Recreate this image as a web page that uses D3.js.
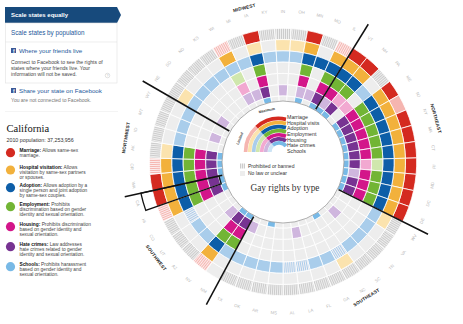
<!DOCTYPE html>
<html>
<head>
<meta charset="utf-8">
<script src="https://cdn.jsdelivr.net/npm/d3@7"></script>
<style>
  body { margin: 0; background: #fff; }
  svg { display: block; font-family: "Liberation Sans", Arial, sans-serif; }
</style>
</head>
<body>
<svg id="chart" width="463" height="324"></svg>
<script>
// small stand-in for d3-selection-multi
d3.selection.prototype.attrs = function (o) {
  Object.keys(o).forEach(k => this.attr(k, o[k]))
  return this
}

// rings, outermost first
const rights = ["Marriage", "Hospital visits", "Adoption", "Employment", "Housing", "Hate crimes", "Schools"]
const fullColors = ["#d42a20", "#f2b13c", "#0d5ea8", "#72b535", "#d3168a", "#773392", "#78b9e6"]
const tintColors = ["#f5b5b0", "#fbe3ae", "#a9cdeb", "#d0e7ad", "#f2a9d1", "#cfb6de", "#cde4f5"]

const regions = ["MIDWEST", "NORTHEAST", "SOUTHEAST", "SOUTHWEST", "NORTHWEST"]
const regionSizes = [13, 12, 13, 7, 6]

// states clockwise, starting at the Midwest edge
const states = [
  "NE", "SD", "ND", "KS", "WI", "MI", "IA", "KY", "IN", "OH", "MN", "MO", "IL",
  "VT", "NH", "PA", "ME", "NJ", "NY", "MA", "CT", "RI", "MD", "DC", "DE",
  "WV", "VA", "TN", "SC", "NC", "GA", "FL", "LA", "AL", "MS", "AR", "OK", "TX",
  "NM", "NV", "AZ", "UT", "CO", "HI", "CA",
  "WA", "OR", "AK", "ID", "MT", "WY"
]

// one letter per ring: F full, L limited, P prohibited, X limited but banned, N no law
const statusCodes = [
  "PLLNNLN", "PNLNNNN", "PNLNNNN", "PNLNNNN", "XFLLLLN", "PNLNNLN", "FLFFFFF", "PNLNNNN", "PLLNNLN", "PLLNNNN", "FFFFFLF", "PNFNNLN", "XFFFFFF",
  "FFFFFLF", "FFFFLFF", "PNLNLNN", "FFFFFFF", "LFFFFFF", "FFFFFFF", "FFFFFFF", "FFFFFFF", "FFFLLFF", "FFFFFLF", "FFFFFFF", "FFFFFFF",
  "PLLNNNN", "PNLNNNN", "PNLNNLN", "PNLNNNN", "PLXNNNF", "PNLNNNN", "PNLNNNN", "PNXNNLN", "PNXNNNN", "PNLNNNN", "PNLNNNF", "PNLNNNN", "PNLNNLN",
  "NNLFFFF", "XFFFFFF", "PNLNNLN", "PNLNNNN", "PNXNNNN", "XFFFFFF", "FFFFFFF",
  "FFFFFFF", "XFFFFFF", "PLFFFFF", "PNLNNNN", "PNLNNLN", "PNLNNNN"
]

const selected = "CA"

const legendItems = [
  ["Marriage:", " Allows same-sex", "marriage."],
  ["Hospital visitation:", " Allows", "visitation by same-sex partners", "or spouses."],
  ["Adoption:", " Allows adoption by a", "single person and joint adoption", "by same-sex couples."],
  ["Employment:", " Prohibits", "discrimination based on gender", "identity and sexual orientation."],
  ["Housing:", " Prohibits discrimination", "based on gender identity and", "sexual orientation."],
  ["Hate crimes:", " Law addresses", "hate crimes related to gender", "identity and sexual orientation."],
  ["Schools:", " Prohibits harassment", "based on gender identity and", "sexual orientation."]
]
const legendY = [152.7, 170, 187.7, 206.7, 226.7, 246.7, 266.7]

const svg = d3.select("#chart")
const defs = svg.append("defs")

// ---------- wheel ----------
const cx = 283, cy = 162
const R0 = 66, R1 = 145, innerCircle = 61
const start = -Math.PI / 3

const angle = d3.scaleBand().domain(states).range([start, start + 2 * Math.PI])
const ring = d3.scaleBand().domain(rights).range([R1, R0])

const arc = d3.arc()
  .startAngle(d => angle(d.state))
  .endAngle(d => angle(d.state) + angle.bandwidth())
  .outerRadius(d => ring(d.right))
  .innerRadius(d => ring(d.right) - ring.bandwidth())

const toDeg = a => a * 180 / Math.PI

// striped fills, rotated so the stripes run along each state's radius
function hatch(state, bg, stripe, rot) {
  let id = `h-${state}-${bg.slice(1)}`
  if (defs.select("#" + id).empty()) {
    let deg = rot !== undefined ? rot : toDeg(angle(state) + angle.bandwidth() / 2)
    let p = defs.append("pattern")
      .attrs({
        id: id, patternUnits: "userSpaceOnUse", width: 2, height: 4,
        patternTransform: `rotate(${deg})`
      })
    p.append("rect").attrs({ width: 2, height: 4, fill: bg })
    p.append("rect").attrs({ width: 0.9, height: 4, fill: stripe })
  }
  return `url(#${id})`
}

function cellFill(d) {
  if (d.code == "F") return fullColors[d.k]
  if (d.code == "L") return tintColors[d.k]
  if (d.code == "N") return "#ededed"
  if (d.code == "X") return hatch(d.state, tintColors[d.k], "#fdf4f4")
  return hatch(d.state, "#eeeeee", "#c9c9c9")
}

const cells = []
states.forEach((s, i) => {
  rights.forEach((r, k) => cells.push({ state: s, right: r, k: k, code: statusCodes[i][k] }))
})

const wheel = svg.append("g").attr("transform", `translate(${cx},${cy})`)

wheel.append("g")
  .selectAll("path")
  .data(cells).enter()
  .append("path")
  .attrs({
    d: arc,
    fill: cellFill,
    stroke: "#fff",
    "stroke-width": 0.8
  })

// region dividers
let regionStarts = []
let acc = 0
regionSizes.forEach(n => { regionStarts.push(acc); acc += n })

wheel.append("g")
  .selectAll("line")
  .data(regionStarts).enter()
  .append("line")
  .attrs({
    x1: d => 62 * Math.sin(angle(states[d])),
    y1: d => -62 * Math.cos(angle(states[d])),
    x2: d => 162 * Math.sin(angle(states[d])),
    y2: d => -162 * Math.cos(angle(states[d])),
    stroke: "#111",
    "stroke-width": 1.5
  })

// selected state outline
wheel.append("path")
  .attr("d", d3.arc()({
    startAngle: angle(selected),
    endAngle: angle(selected) + angle.bandwidth(),
    innerRadius: R0 - 0.5,
    outerRadius: R1 + 0.5
  }))
  .attrs({ fill: "none", stroke: "#111", "stroke-width": 1.3 })

function labelRotation(a) {
  let deg = (toDeg(a) + 360) % 360
  return (deg > 90 && deg < 270) ? deg - 180 : deg
}

// state abbreviations
wheel.append("g")
  .selectAll("text")
  .data(states).enter()
  .append("text")
  .attrs({
    transform: d => {
      let a = angle(d) + angle.bandwidth() / 2
      return `translate(${151 * Math.sin(a)},${-151 * Math.cos(a)}) rotate(${labelRotation(a)})`
    },
    "text-anchor": "middle",
    dy: "0.35em",
    "font-size": 4.3,
    fill: "#b9b9b9"
  })
  .text(d => d)

// region names; the southeast name sits nearer its first states
const nudge = { SOUTHEAST: -14 * Math.PI / 180 }
wheel.append("g")
  .selectAll("text")
  .data(regions).enter()
  .append("text")
  .attrs({
    transform: (d, i) => {
      let first = states[regionStarts[i]]
      let last = states[regionStarts[i] + regionSizes[i] - 1]
      let a = (angle(first) + angle(last) + angle.bandwidth()) / 2 + (nudge[d] || 0)
      return `translate(${159 * Math.sin(a)},${-159 * Math.cos(a)}) rotate(${labelRotation(a)})`
    },
    "text-anchor": "middle",
    dy: "0.35em",
    "font-size": 4.6,
    "font-weight": "bold",
    "letter-spacing": 0.2,
    fill: "#222"
  })
  .text(d => d)

// inner white disc
wheel.append("circle")
  .attrs({ r: innerCircle, fill: "#fff", stroke: "#9a9a9a", "stroke-width": 0.8 })

// ---------- rainbow key inside the disc ----------
const key = svg.append("g").attr("transform", `translate(279,152)`)
const keyRing = d3.scaleBand().domain(rights).range([39, 11]).paddingInner(0.08)
const split = -42 * Math.PI / 180

rights.forEach((r, k) => {
  let outer = keyRing(r), inner = outer - keyRing.bandwidth()
  let mid = (outer + inner) / 2
  let end = Math.asin(Math.min(1, 7 / mid))
  key.append("path")
    .attr("d", d3.arc()({ innerRadius: inner, outerRadius: outer, startAngle: -Math.PI / 2, endAngle: split }))
    .attr("fill", tintColors[k])
  key.append("path")
    .attr("d", d3.arc()({ innerRadius: inner, outerRadius: outer, startAngle: split, endAngle: end }))
    .attr("fill", fullColors[k])
})

key.append("text")
  .attrs({ transform: "translate(-38,-13) rotate(-68)", "font-size": 3.6, "font-weight": "bold", fill: "#333", "text-anchor": "middle" })
  .text("Limited")
key.append("text")
  .attrs({ transform: "translate(-12,-40.5) rotate(-12)", "font-size": 3.6, "font-weight": "bold", fill: "#333", "text-anchor": "middle" })
  .text("Maximum")

const keyRow = d3.scalePoint().domain(rights).range([119, 153])
svg.append("g")
  .selectAll("text")
  .data(rights).enter()
  .append("text")
  .attrs({ x: 287, y: d => keyRow(d), "font-size": 5.3, fill: "#333" })
  .text(d => d)

svg.append("rect")
  .attrs({ x: 240, y: 163.5, width: 5, height: 5, fill: hatch("key", "#eeeeee", "#c9c9c9", 0) })
svg.append("rect")
  .attrs({ x: 240, y: 171, width: 5, height: 5, fill: "#ededed" })
svg.append("text").attrs({ x: 248, y: 167.8, "font-size": 5, fill: "#333" }).text("Prohibited or banned")
svg.append("text").attrs({ x: 248, y: 175.3, "font-size": 5, fill: "#333" }).text("No law or unclear")

svg.append("text")
  .attrs({ x: 285, y: 191, "text-anchor": "middle", "font-size": 9.3, fill: "#333", "font-family": "'Liberation Serif', Georgia, serif" })
  .text("Gay rights by type")

// ---------- side panel ----------
const panel = svg.append("g")

panel.append("path")
  .attrs({ d: "M5,7H117L121,15L117,23H5Z", fill: "#174a7c" })
panel.append("text")
  .attrs({ x: 11, y: 17, "font-size": 6, "font-weight": "bold", fill: "#fff" })
  .text("Scale states equally")

panel.append("rect")
  .attrs({ x: 5.5, y: 23, width: 111.5, height: 60, fill: "none", stroke: "#e2e2e2", "stroke-width": 0.6 })
panel.append("line")
  .attrs({ x1: 5.5, x2: 117, y1: 42, y2: 42, stroke: "#e2e2e2", "stroke-width": 0.6 })
panel.append("text")
  .attrs({ x: 11, y: 35, "font-size": 6.3, fill: "#24589a" })
  .text("Scale states by population")

function fbIcon(x, y) {
  panel.append("rect").attrs({ x: x, y: y, width: 5, height: 5, fill: "#3b5998" })
  panel.append("text")
    .attrs({ x: x + 2.8, y: y + 5, "font-size": 5, "font-weight": "bold", fill: "#fff", "text-anchor": "middle" })
    .text("f")
}
fbIcon(11, 48)
panel.append("text")
  .attrs({ x: 19, y: 52.7, "font-size": 6.2, fill: "#24589a" })
  .text("Where your friends live")

const para = ["Connect to Facebook to see the rights of", "states where your friends live. Your", "information will not be saved."]
panel.append("g")
  .selectAll("text")
  .data(para).enter()
  .append("text")
  .attrs({ x: 11, y: (d, i) => 64 + i * 5.8, "font-size": 5.1, fill: "#444" })
  .text(d => d)
panel.append("circle").attrs({ cx: 107.5, cy: 75.5, r: 2.3, fill: "none", stroke: "#c4c4c4", "stroke-width": 0.5 })
panel.append("text")
  .attrs({ x: 107.5, y: 76.9, "font-size": 3.6, fill: "#bbb", "text-anchor": "middle" })
  .text("?")

fbIcon(11, 88)
panel.append("text")
  .attrs({ x: 19, y: 92.7, "font-size": 6.2, fill: "#24589a" })
  .text("Share your state on Facebook")
panel.append("text")
  .attrs({ x: 11, y: 101.5, "font-size": 5, fill: "#777" })
  .text("You are not connected to Facebook.")

panel.append("line")
  .attrs({ x1: 5, x2: 118, y1: 111.5, y2: 111.5, stroke: "#ececec", "stroke-width": 0.6 })

panel.append("text")
  .attrs({ x: 6.5, y: 132, "font-size": 10.5, fill: "#111", "font-family": "'Liberation Serif', Georgia, serif" })
  .text("California")
panel.append("text")
  .attrs({ x: 6.5, y: 142, "font-size": 5.3, fill: "#333" })
  .text("2010 population: 37,253,956")

const items = panel.append("g")
  .selectAll("g")
  .data(legendItems).enter()
  .append("g")
  .attr("transform", (d, i) => `translate(0,${legendY[i]})`)

items.append("circle")
  .attrs({ cx: 10.5, cy: 0, r: 4.6, fill: (d, i) => fullColors[i] })

items.each(function (d) {
  let g = d3.select(this)
  let first = g.append("text").attrs({ x: 19.5, y: -0.7, "font-size": 4.8, fill: "#444" })
  first.append("tspan").attrs({ "font-weight": "bold", fill: "#111" }).text(d[0])
  first.append("tspan").text(d[1])
  d.slice(2).forEach((line, j) => {
    g.append("text").attrs({ x: 19.5, y: 4.3 + j * 5, "font-size": 4.8, fill: "#444" }).text(line)
  })
})
</script>
</body>
</html>
